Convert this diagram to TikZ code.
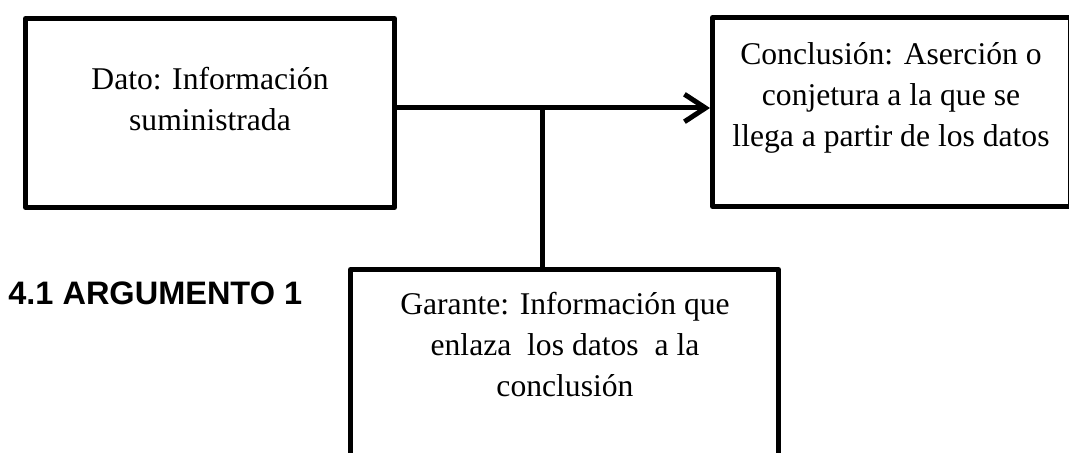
\documentclass[tikz,border=0pt]{standalone}
\usepackage{fontspec}
\setmainfont{Liberation Serif}
\newfontfamily\titulofont{Liberation Sans}
\usetikzlibrary{arrows.meta}

\tikzset{
  caja/.style={draw, line width=0.1cm, line join=round, inner sep=0pt},
  texto/.style={align=center, inner sep=0pt, font=\fontsize{18}{23.3}\selectfont},
  enlace/.style={line width=0.1cm},
}

\begin{document}
\begin{tikzpicture}
        \useasboundingbox (0,0) rectangle (21.38,9.06);

        \node[caja, minimum width=7.38cm, minimum height=3.78cm] (dato) at (4.2,6.8) {};
        \node[caja, minimum width=7.15cm, minimum height=3.78cm] (conclusion) at (17.825,6.82) {};
        \node[caja, minimum width=8.56cm, minimum height=4.21cm] (garante) at (11.29,1.565) {};

        \node[texto, anchor=north] (datotxt) at (4.2,7.72) {Dato: Información\\suministrada};
        \node[texto, anchor=north] (conclusiontxt) at (17.82,8.22) {Conclusión: Aserción o\\conjetura a la que se\\llega a partir de los datos};
        \node[texto, anchor=north] (garantetxt) at (11.3,3.22) {Garante: Información que\\enlaza\ \ los datos\ \ a la\\conclusión};
        \node[anchor=base west, inner sep=0pt, font=\titulofont\bfseries\fontsize{18.5}{22}\selectfont] (titulo) at (0.16,2.96) {4.1 ARGUMENTO 1};

        \coordinate (union) at (10.84,6.9);
        \draw[enlace, -{Straight Barb[length=0.42cm, width=0.55cm]}] ([yshift=0.1cm]dato.east) -- ([yshift=0.08cm]conclusion.west);
        \draw[enlace] (union) -- (union |- garante.north);
      \end{tikzpicture}
\end{document}
